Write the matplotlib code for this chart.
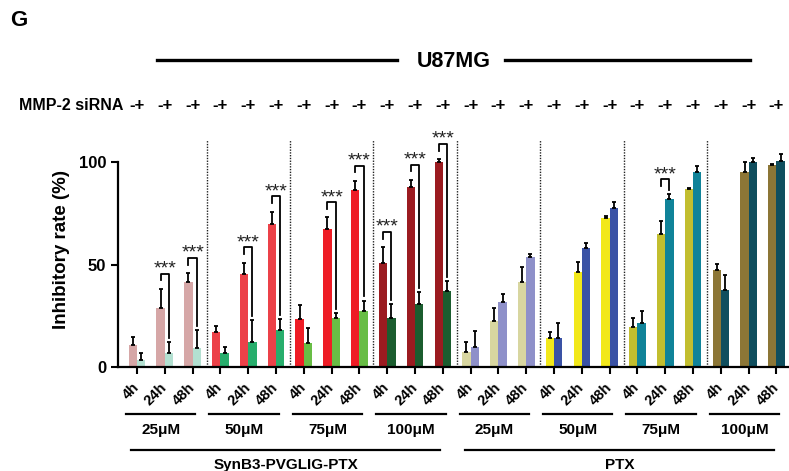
import matplotlib
matplotlib.use("Agg")
import matplotlib.pyplot as plt
from matplotlib.lines import Line2D
from matplotlib.transforms import blended_transform_factory
import numpy as np

plt.rcParams['font.family'] = ['Liberation Sans', 'DejaVu Sans']
plt.rcParams['font.weight'] = 'bold'

# data
times = ['4h', '24h', '48h'] * 8
concs = ['25μM', '50μM', '75μM', '100μM'] * 2
drugs = ['SynB3-PVGLIG-PTX', 'PTX']

minus_vals = [10.7, 28.6, 41.6, 16.9, 45.4, 69.9, 23.4, 67.5, 86.5, 50.6, 88.0, 99.8,
              7.5, 22.4, 41.3, 14.0, 46.2, 72.5, 19.7, 64.7, 86.7, 47.3, 95.3, 98.5]
minus_err = [4.1, 9.4, 4.1, 3.1, 5.5, 5.9, 6.8, 5.5, 4.2, 7.8, 3.2, 1.5,
             4.9, 6.5, 7.3, 3.2, 5.2, 1.3, 4.4, 6.5, 0.5, 2.8, 4.5, 0.5]
plus_vals = [3.4, 7.0, 9.4, 6.7, 12.2, 18.0, 11.9, 23.7, 27.5, 24.1, 30.6, 37.2,
             9.6, 31.5, 53.5, 14.0, 58.2, 77.4, 21.6, 82.0, 95.3, 37.4, 100.2, 100.6]
plus_err = [3.4, 5.0, 8.6, 3.2, 10.7, 5.3, 7.3, 2.5, 4.9, 6.5, 5.8, 4.8,
            8.0, 3.9, 1.6, 7.3, 2.1, 2.9, 5.9, 2.2, 2.7, 7.5, 1.9, 3.1]
sig_groups = [1, 2, 4, 5, 7, 8, 9, 10, 11, 19]

minus_colors = ['#d6a7a7', '#ec4148', '#ee1c25', '#9b1b20',
                '#d8d6a0', '#f2e81a', '#c2be2f', '#8c7636']
plus_colors = ['#b3e0d1', '#27ae6c', '#68bd45', '#1b5d2f',
               '#8e90c9', '#3a52a5', '#108399', '#0f4e5e']

n = len(times)
x = np.arange(n)
w = 0.3

fig = plt.figure(figsize=(7.89, 4.71), dpi=100)
ax = fig.add_axes([0.1496, 0.2208, 0.8504, 0.5005])

mc = [minus_colors[i // 3] for i in range(n)]
pc = [plus_colors[i // 3] for i in range(n)]
ax.bar(x - w / 2, minus_vals, w, color=mc, zorder=2)
ax.bar(x + w / 2, plus_vals, w, color=pc, zorder=2)
ax.errorbar(x - w / 2, minus_vals, yerr=[np.zeros(n), minus_err], fmt='none',
            ecolor='black', elinewidth=1.3, capsize=1.5, capthick=1.3, zorder=3)
ax.errorbar(x + w / 2, plus_vals, yerr=[np.zeros(n), plus_err], fmt='none',
            ecolor='black', elinewidth=1.3, capsize=1.5, capthick=1.3, zorder=3)

# gepunktete Trennlinien
for b in range(1, 8):
    ax.plot([3 * b - 0.5, 3 * b - 0.5], [0, 110.7], ls=(0, (1, 1)), color='#222222',
            lw=1.0, zorder=1)

# Signifikanz-Klammern
for g in sig_groups:
    mt = minus_vals[g] + minus_err[g]
    pt = plus_vals[g] + plus_err[g]
    top = max(mt, pt) + 7.5
    xl, xr = g - w / 2, g + w / 2
    ax.plot([xl, xl, xr, xr], [top - 3.3, top, top, pt + 2], color='black', lw=1.3, zorder=4)
    ax.text(g, top + 2.2, '***', ha='center', va='center', fontsize=14,
            fontweight='normal', color='#222222', zorder=4)

ax.set_xlim(-0.683, 23.45)
ax.set_ylim(0, 115)
ax.set_yticks([0, 50, 100])
ax.set_yticklabels(['0', '50', '100'], fontsize=12, fontweight='bold')
ax.spines['left'].set_bounds(0, 100)
for s in ['top', 'right']:
    ax.spines[s].set_visible(False)
for s in ['left', 'bottom']:
    ax.spines[s].set_linewidth(1.6)
ax.tick_params(axis='both', width=1.5, length=5)
ax.set_ylabel('Inhibitory rate (%)', fontsize=13.5, fontweight='bold', labelpad=6)

ax.set_xticks(x)
ax.set_xticklabels(times, rotation=45, ha='right', va='center', rotation_mode='anchor',
                   fontsize=10.5, fontweight='bold')
ax.tick_params(axis='x', pad=8)

trans = ax.get_xaxis_transform()
for i, c in enumerate(concs):
    cx = 3 * i + 0.85
    ax.plot([cx - 1.25, cx + 1.25], [-0.199, -0.199], transform=trans, color='black',
            lw=1.6, clip_on=False)
    ax.text(cx, -0.267, c, transform=trans, ha='center', va='center', fontsize=11,
            fontweight='bold')
for i, d in enumerate(drugs):
    cx = 12 * i + 5.35
    ax.plot([cx - 5.55, cx + 5.55], [-0.352, -0.352], transform=trans, color='black',
            lw=1.6, clip_on=False)
    ax.text(cx, -0.385, d, transform=trans, ha='center', va='top', fontsize=11,
            fontweight='bold')

# MMP-2 siRNA Zeile
fig.text(0.156, 0.775, 'MMP-2 siRNA', ha='right', va='center', fontsize=11.5, fontweight='bold')
row = blended_transform_factory(ax.transData, fig.transFigure)
for i in range(n):
    ax.text(i, 0.775, '-+', transform=row, ha='center', va='center', fontsize=12,
            fontweight='bold')

# U87MG Kopfzeile
fig.add_artist(Line2D([0.199, 0.503], [0.8726, 0.8726], color='black', lw=2.4))
fig.add_artist(Line2D([0.640, 0.951], [0.8726, 0.8726], color='black', lw=2.4))
fig.text(0.5754, 0.870, 'U87MG', ha='center', va='center', fontsize=15.5, fontweight='bold')

fig.text(0.0127, 0.9575, 'G', ha='left', va='center', fontsize=16, fontweight='heavy')

fig.savefig('out.png', dpi=100)
